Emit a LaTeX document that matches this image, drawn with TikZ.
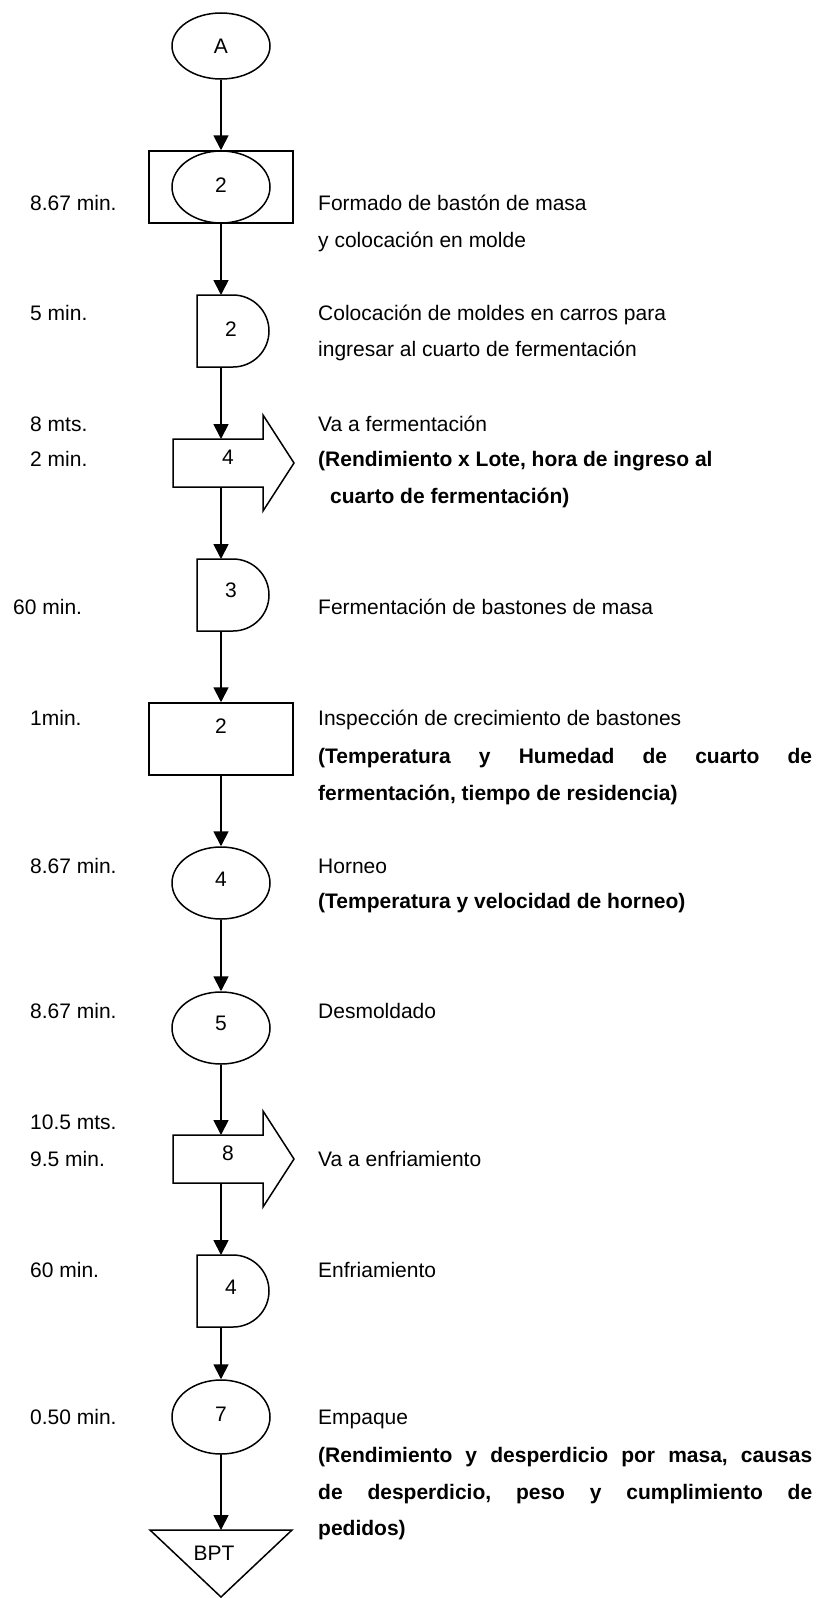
\documentclass[tikz,border=0pt]{standalone}
\usepackage{fontspec}
\setmainfont{Liberation Sans}
\usetikzlibrary{arrows.meta,shapes.geometric}
\frenchspacing
\begin{document}
\frenchspacing
\begin{tikzpicture}[x=1pt,y=-1pt,
  shp/.style={draw=black,line width=1.5pt},
  oval/.style={shp,ellipse,inner sep=0pt,minimum width=98pt,minimum height=72pt},
  box/.style={shp,rectangle,inner sep=0pt,minimum width=144pt,minimum height=72pt},
  flow/.style={line width=1.8pt,-{Triangle[width=15pt,length=15pt]}},
  lbl/.style={anchor=base west,inner sep=0pt,font=\fontsize{21}{25}\selectfont},
  bld/.style={anchor=base west,inner sep=0pt,font=\fontsize{21}{25}\selectfont\bfseries},
  num/.style={inner sep=0pt,font=\fontsize{21}{25}\selectfont}]
\useasboundingbox (0,0) rectangle (823,1598);

% ---- shapes ----
\node[oval,minimum height=66pt] (A) at (221,46) {};
\node[num] (nA) at (221,46) {A};

\node[box] (R1) at (221,187) {};
\node[oval] (O2) at (221,187) {};
\node[num] (n2a) at (221,185) {2};

\draw[shp] (197,295) -- (233,295) arc[start angle=-90,end angle=90,radius=36] -- (197,367) -- cycle;
\coordinate (D2t) at (221,295); \coordinate (D2b) at (221,367);
\node[num] (n2b) at (231,329) {2};

\draw[shp] (173,439) -- (263,439) -- (263,415) -- (294,463) -- (263,511) -- (263,487) -- (173,487) -- cycle;
\coordinate (M4t) at (221,439); \coordinate (M4b) at (221,487);
\node[num] (n4a) at (228,457) {4};

\draw[shp] (197,559) -- (233,559) arc[start angle=-90,end angle=90,radius=36] -- (197,631) -- cycle;
\coordinate (D3t) at (221,559); \coordinate (D3b) at (221,631);
\node[num] (n3) at (231,590) {3};

\node[box] (R2) at (221,739) {};
\node[num] (n2c) at (221,726) {2};

\node[oval] (O4) at (221,883) {};
\node[num] (n4b) at (221,879) {4};

\node[oval] (O5) at (221,1028) {};
\node[num] (n5) at (221,1023) {5};

\draw[shp] (173,1135) -- (263,1135) -- (263,1111) -- (294,1159) -- (263,1207) -- (263,1183) -- (173,1183) -- cycle;
\coordinate (M8t) at (221,1135); \coordinate (M8b) at (221,1183);
\node[num] (n8) at (228,1153) {8};

\draw[shp] (197,1255) -- (233,1255) arc[start angle=-90,end angle=90,radius=36] -- (197,1327) -- cycle;
\coordinate (D4t) at (221,1255); \coordinate (D4b) at (221,1327);
\node[num] (n4c) at (231,1287) {4};

\node[oval,minimum height=74pt] (O7) at (221,1417) {};
\node[num] (n7) at (221,1414) {7};

\draw[shp] (150,1530) -- (292,1530) -- (221,1597) -- cycle;
\coordinate (Tt) at (221,1530);
\node[num] (nB) at (214,1553) {BPT};

% ---- connectors ----
\draw[flow] (A.south) -- (R1.north);
\draw[flow] (R1.south) -- (D2t);
\draw[flow] (D2b) -- (M4t);
\draw[flow] (M4b) -- (D3t);
\draw[flow] (D3b) -- (R2.north);
\draw[flow] (R2.south) -- (O4.north);
\draw[flow] (O4.south) -- (O5.north);
\draw[flow] (O5.south) -- (M8t);
\draw[flow] (M8b) -- (D4t);
\draw[flow] (D4b) -- (O7.north);
\draw[flow] (O7.south) -- (Tt);

% ---- left labels ----
\node[lbl] (l1) at (30,210) {8.67 min.};
\node[lbl] (l2) at (30,320) {5 min.};
\node[lbl] (l3) at (30,431) {8 mts.};
\node[lbl] (l4) at (30,466) {2 min.};
\node[lbl] (l5) at (13,614) {60 min.};
\node[lbl] (l6) at (30,725) {1min.};
\node[lbl] (l7) at (30,873) {8.67 min.};
\node[lbl] (l8) at (30,1018) {8.67 min.};
\node[lbl] (l9) at (30,1129) {10.5 mts.};
\node[lbl] (l10) at (30,1166) {9.5 min.};
\node[lbl] (l11) at (30,1277) {60 min.};
\node[lbl] (l12) at (30,1424) {0.50 min.};

% ---- right texts ----
\node[lbl] (r1) at (318,210) {Formado de bastón de masa};
\node[lbl] (r1b) at (318,247) {y colocación en molde};
\node[lbl] (r2) at (318,320) {Colocación de moldes en carros para};
\node[lbl] (r2b) at (318,356) {ingresar al cuarto de fermentación};
\node[lbl] (r3) at (318,431) {Va a fermentación};
\node[bld] (r3b) at (318,466) {(Rendimiento x Lote, hora de ingreso al};
\node[bld] (r3c) at (330,503) {cuarto de fermentación)};
\node[lbl] (r4) at (318,614) {Fermentación de bastones de masa};
\node[lbl] (r5) at (318,725) {Inspección de crecimiento de bastones};
\node[bld] (r5b) at (318,763) {\makebox[494pt][s]{(Temperatura y Humedad de cuarto de}};
\node[bld] (r5c) at (318,800) {fermentación, tiempo de residencia)};
\node[lbl] (r6) at (318,873) {Horneo};
\node[bld] (r6b) at (318,908) {(Temperatura y velocidad de horneo)};
\node[lbl] (r7) at (318,1018) {Desmoldado};
\node[lbl] (r8) at (318,1166) {Va a enfriamiento};
\node[lbl] (r9) at (318,1277) {Enfriamiento};
\node[lbl] (r10) at (318,1424) {Empaque};
\node[bld] (r10b) at (318,1462) {\makebox[494pt][s]{(Rendimiento y desperdicio por masa, causas}};
\node[bld] (r10c) at (318,1499) {\makebox[494pt][s]{de desperdicio, peso y cumplimiento de}};
\node[bld] (r10d) at (318,1535) {pedidos)};
\end{tikzpicture}
\end{document}
